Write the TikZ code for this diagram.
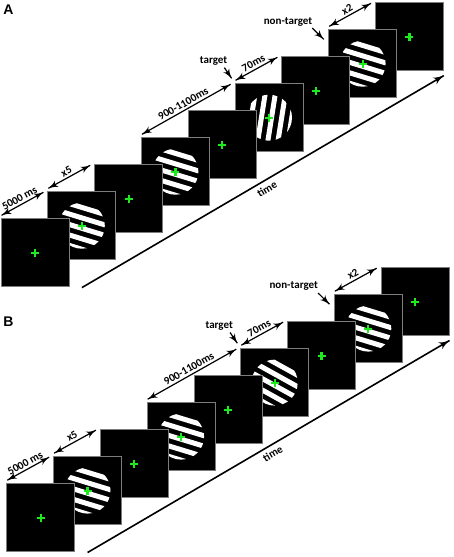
\documentclass[tikz,border=0pt]{standalone}
\usepackage{fontspec}
\setmainfont{Carlito}
\newfontfamily\panelfont{Liberation Sans}
\usetikzlibrary{arrows}
\usetikzlibrary{decorations.markings}
\tikzset{dur/.style = {line width=1.2pt, decoration={markings,
                                  mark=at position 0 with {\arrowreversed[scale=1.5]{latex'}},
                                  mark=at position 1 with {\arrow[scale=1.5]{latex'}}},
                      postaction={decorate}}}
\tikzset{cue/.style = {line width=1.2pt, decoration={markings,
                                  mark=at position 1 with {\arrow[scale=1.5]{latex'}}},
                      postaction={decorate}}}
\tikzset{timeline/.style = {line width=1.6pt, decoration={markings,
                                  mark=at position 1 with {\arrow[scale=1.4]{latex'}}},
                      postaction={decorate}}}
\tikzset{screen/.style = {draw=mgray, fill=black, line width=0.8pt, minimum size=68pt, inner sep=0pt}}
\tikzset{fixcross/.style = {mgreen, line width=2.2pt}}
\tikzset{lbl/.style = {font=\bfseries\fontsize{11}{13}\selectfont, inner sep=2pt}}
\tikzset{panel/.style = {font=\panelfont\bfseries\fontsize{14}{16}\selectfont, inner sep=0pt}}
\definecolor{mgreen}{RGB}{30,235,30}
\definecolor{mgray}{RGB}{125,125,125}

\newcommand{\grating}[2]{%
  \begin{scope}
    \clip (#1.center) circle (23pt);
    \begin{scope}[shift={(#1.center)}, rotate=#2]
      \foreach \k in {-3,...,2}
        \fill [white] (-25, 10*\k) rectangle (25, 10*\k+5);
    \end{scope}
  \end{scope}}

\begin{document}
\begin{tikzpicture}[x=1pt, y=-1pt]
    \useasboundingbox (0, 0) rectangle (454, 557);

    \node [panel] (pa) at (8.5, 10) {A};
    \node [panel] (pb) at (8.5, 321.5) {B};

    \foreach \p/\dx/\dy/\tang in {a/0/0/81, b/5.7/264.9/-29} {
      \begin{scope}[shift={(\dx, \dy)}]
        % screens, back to front
        \foreach \i in {9,...,1} {
          \node [screen] (\p\i) at ({35+46.8*(\i-1)}, {252.7-27*(\i-1)}) {};
          \ifodd\i \else
            \ifnum\i=6 \grating{\p\i}{\tang} \else \grating{\p\i}{-17} \fi
          \fi
          \draw [fixcross] (\p\i.center) +(-4, 0) -- +(4, 0) (\p\i.center) +(0, -4) -- +(0, 4);
        }

        \foreach \s/\e/\txt in {1/2/5000 ms, 2/3/x5, 4/6/900-1100ms, 6/7/70ms, 8/9/x2}
          \draw [dur] ([shift={(1, -3)}]\p\s.north west) -- node [lbl, above, sloped] {\txt} ([shift={(-4, 1)}]\p\e.north west);

        \node [lbl] (\p t) at (213.5, 61) {target};
        \node [lbl] (\p n) at (288, 21.5) {non-target};
        \coordinate (\p tt) at ([shift={(-3, -5)}]\p6.north west);
        \coordinate (\p nt) at ([shift={(-4.5, 10)}]\p8.north west);
        \draw [cue] ([shift={(-5, 0)}]\p t.south east) -- (\p tt);
        \draw [cue] ([shift={(-2, 0)}]\p n.south east) -- (\p nt);

        \draw [timeline] ([shift={(12.5, 0.5)}]\p1.south east) -- node [lbl, below, sloped, inner sep=3.5pt] {time} ([shift={(0, 4.5)}]\p9.south east);
      \end{scope}
    }
\end{tikzpicture}
\end{document}
